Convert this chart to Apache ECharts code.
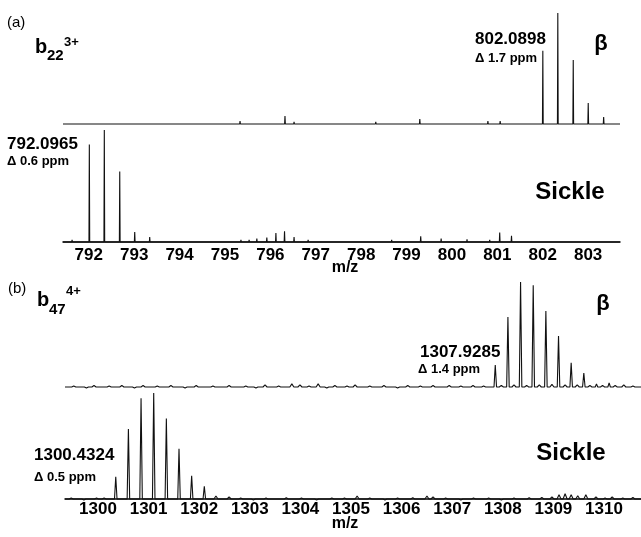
<!DOCTYPE html>
<html>
<head>
<meta charset="UTF-8">
<title>b22 3+ / b47 4+ isotope spectra</title>
<script src="https://cdn.jsdelivr.net/npm/echarts@6/dist/echarts.min.js"></script>
<style>html,body{margin:0;padding:0;background:#fff;}</style>
</head>
<body>
<div id="main" style="width:641px;height:537px;"></div>
<script>
// ---- panel (a): b22 3+ ----
var ticksA = [792, 793, 794, 795, 796, 797, 798, 799, 800, 801, 802, 803];
var betaA_mz  = [802.09, 802.42, 802.76, 803.09, 803.43];
var betaA_int = [0.66, 1.0, 0.577, 0.19, 0.063];
var betaA_noise_mz  = [791.74, 792.11, 792.42, 792.7, 793.2, 793.5, 794.23, 794.45, 794.63, 794.9, 795.1, 795.42, 795.7, 795.9, 796.01, 796.41, 796.61, 796.78, 796.9, 797.14, 797.4, 797.78, 798.0, 798.41, 798.63, 798.9, 799.38, 799.6, 800.02, 800.4, 800.6, 800.88, 801.15, 801.41, 801.92, 802.25, 803.6];
var betaA_noise_int = [0.01, 0.01, 0.01, 0.008, 0.008, 0.008, 0.01, 0.012, 0.01, 0.008, 0.01, 0.027, 0.01, 0.012, 0.018, 0.072, 0.02, 0.01, 0.012, 0.01, 0.008, 0.018, 0.008, 0.02, 0.01, 0.01, 0.045, 0.01, 0.01, 0.008, 0.012, 0.027, 0.027, 0.018, 0.01, 0.018, 0.01];

var sickleA_mz  = [792.10, 792.43, 792.77, 793.10, 793.43];
var sickleA_int = [0.87, 1.0, 0.63, 0.09, 0.045];
var sickleA_noise_mz  = [791.72, 792.29, 793.90, 794.27, 794.71, 795.13, 795.44, 795.62, 795.79, 796.01, 796.21, 796.40, 796.61, 796.92, 797.32, 798.30, 798.76, 799.40, 799.85, 800.42, 800.92, 801.14, 801.40, 801.87, 802.62, 802.90, 803.39];
var sickleA_noise_int = [0.02, 0.015, 0.01, 0.01, 0.01, 0.015, 0.02, 0.02, 0.03, 0.04, 0.08, 0.095, 0.045, 0.02, 0.015, 0.015, 0.02, 0.05, 0.03, 0.025, 0.02, 0.085, 0.055, 0.015, 0.015, 0.015, 0.015];

// ---- panel (b): b47 4+ ----
var ticksB = [1300, 1301, 1302, 1303, 1304, 1305, 1306, 1307, 1308, 1309, 1310];
var betaB_mz  = [1307.93, 1308.18, 1308.43, 1308.68, 1308.93, 1309.18, 1309.43, 1309.68, 1309.93, 1310.18];
var betaB_int = [0.21, 0.667, 1.0, 0.97, 0.724, 0.486, 0.23, 0.133, 0.03, 0.04];
var betaB_noise_mz  = [1299.60, 1299.85, 1300.00, 1300.30, 1300.55, 1300.80, 1300.97, 1301.25, 1301.52, 1301.80, 1302.02, 1302.35, 1302.67, 1303.00, 1303.20, 1303.38, 1303.65, 1303.91, 1304.07, 1304.25, 1304.43, 1304.60, 1304.76, 1305.00, 1305.16, 1305.45, 1305.73, 1306.00, 1306.20, 1306.45, 1306.70, 1307.02, 1307.25, 1307.49, 1307.70, 1308.05, 1308.30, 1308.55, 1308.80, 1309.05, 1309.31, 1309.55, 1309.80, 1310.05, 1310.30, 1310.47, 1310.65];
var betaB_noise_int = [0.01, -0.01, 0.015, 0.01, 0.015, -0.01, 0.015, 0.01, 0.015, -0.01, 0.015, 0.01, 0.015, 0.01, -0.01, 0.02, 0.01, 0.03, 0.02, 0.01, 0.03, -0.01, 0.015, 0.01, 0.02, 0.01, 0.015, -0.01, 0.015, 0.01, 0.015, 0.015, 0.01, 0.015, 0.01, 0.015, 0.02, 0.015, 0.02, 0.025, 0.02, 0.02, 0.015, 0.015, 0.015, 0.02, 0.01];

var sickleB_mz  = [1300.43, 1300.68, 1300.93, 1301.18, 1301.43, 1301.68, 1301.93, 1302.18];
var sickleB_int = [0.21, 0.66, 0.95, 1.0, 0.76, 0.475, 0.22, 0.12];
var sickleB_noise_mz  = [1299.55, 1299.80, 1300.05, 1300.20, 1302.41, 1302.67, 1302.90, 1303.15, 1303.40, 1303.80, 1304.10, 1304.40, 1304.70, 1304.95, 1305.20, 1305.45, 1305.75, 1306.00, 1306.30, 1306.58, 1306.70, 1306.95, 1307.25, 1307.50, 1307.80, 1308.05, 1308.30, 1308.60, 1308.85, 1309.05, 1309.19, 1309.31, 1309.43, 1309.56, 1309.72, 1309.92, 1310.10, 1310.24, 1310.45, 1310.65];
var sickleB_noise_int = [0.01, -0.01, 0.01, 0.01, 0.028, 0.02, 0.01, -0.01, 0.01, 0.012, 0.01, -0.01, 0.01, 0.01, 0.028, 0.01, -0.01, 0.01, 0.012, 0.028, 0.02, 0.01, -0.01, 0.01, 0.01, -0.01, 0.01, 0.012, 0.015, 0.02, 0.04, 0.05, 0.04, 0.03, 0.04, 0.02, 0.01, 0.02, 0.01, 0.015];

var rangeA = [791.52, 803.79];
var rangeB = [1299.427, 1310.81];
var FAM = '"Liberation Sans", Arial, sans-serif';

// builds a baseline + peak trace; each peak is a narrow triangle of half-width hw
function trace(mz, inten, hw, nmz, nint, nhw, range) {
    var pk = [];
    for (var i = 0; i < mz.length; i++) pk.push([mz[i], inten[i], hw]);
    for (var j = 0; j < nmz.length; j++) pk.push([nmz[j], nint[j], nhw]);
    pk.sort(function (a, b) { return a[0] - b[0]; });
    var pts = [[range[0], 0]];
    pk.forEach(function (p) {
        pts.push([p[0] - p[2], 0], [p[0], p[1]], [p[0] + p[2], 0]);
    });
    pts.push([range[1], 0]);
    return pts;
}

function txt(x, y, s, font, align) {
    return {
        type: 'text', x: x, y: y, silent: true,
        style: {
            text: s, font: font + ' ' + FAM, fill: '#000',
            textAlign: align || 'left', align: align || 'left',
            textVerticalAlign: 'middle', verticalAlign: 'middle'
        }
    };
}

function bottomAxis(grid, range, ticks, margin) {
    return {
        gridIndex: grid, type: 'value', min: range[0], max: range[1],
        axisLine: { onZero: false, lineStyle: { color: '#000', width: 1.5 } },
        axisTick: { show: false },
        splitLine: { show: false },
        axisLabel: {
            customValues: ticks,
            formatter: function (v) { return String(v); },
            color: '#000', fontSize: 17, fontWeight: 'bold', fontFamily: FAM,
            margin: margin, padding: [0, 0, 0, 8]
        }
    };
}

function lineSeries(idx, data) {
    return {
        type: 'line', xAxisIndex: idx, yAxisIndex: idx, data: data,
        symbol: 'none', showSymbol: false, clip: false, silent: true,
        lineStyle: { color: '#111', width: 1.1 }
    };
}

var chart = echarts.init(document.getElementById('main'), null, { renderer: 'canvas' });
chart.setOption({
    animation: false,
    backgroundColor: '#fff',
    grid: [
        { left: 63, top: 13, width: 557, height: 111 },
        { left: 63, top: 130, width: 557, height: 112 },
        { left: 65, top: 282, width: 576, height: 105 },
        { left: 65, top: 393, width: 576, height: 106 }
    ],
    xAxis: [
        { gridIndex: 0, type: 'value', min: rangeA[0], max: rangeA[1], show: false },
        bottomAxis(1, rangeA, ticksA, 5),
        { gridIndex: 2, type: 'value', min: rangeB[0], max: rangeB[1], show: false },
        bottomAxis(3, rangeB, ticksB, 2)
    ],
    yAxis: [0, 1, 2, 3].map(function (i) {
        return { gridIndex: i, type: 'value', min: 0, max: 1, show: false };
    }),
    series: [
        lineSeries(0, trace(betaA_mz, betaA_int, 0.008, betaA_noise_mz, betaA_noise_int, 0.008, rangeA)),
        lineSeries(1, trace(sickleA_mz, sickleA_int, 0.008, sickleA_noise_mz, sickleA_noise_int, 0.008, rangeA)),
        lineSeries(2, trace(betaB_mz, betaB_int, 0.025, betaB_noise_mz, betaB_noise_int, 0.04, rangeB)),
        lineSeries(3, trace(sickleB_mz, sickleB_int, 0.025, sickleB_noise_mz, sickleB_noise_int, 0.04, rangeB))
    ],
    graphic: [
        // panel (a)
        txt(7, 23, '(a)', '15px'),
        txt(35, 47.5, 'b', 'bold 20px'),
        txt(47, 56, '22', 'bold 15px'),
        txt(64, 42, '3+', 'bold 13px'),
        txt(475, 39, '802.0898', 'bold 17px'),
        txt(475, 58, 'Δ 1.7 ppm', 'bold 13px'),
        txt(601, 44, 'β', 'bold 22px', 'center'),
        txt(7, 144, '792.0965', 'bold 17px'),
        txt(7, 161, 'Δ 0.6 ppm', 'bold 13px'),
        txt(570, 192, 'Sickle', 'bold 24px', 'center'),
        txt(345, 268, 'm/z', 'bold 16px', 'center'),
        // panel (b)
        txt(8, 289, '(b)', '15px'),
        txt(37, 300, 'b', 'bold 20px'),
        txt(49, 310, '47', 'bold 15px'),
        txt(66, 291, '4+', 'bold 13px'),
        txt(420, 352, '1307.9285', 'bold 17px'),
        txt(418, 369, 'Δ 1.4 ppm', 'bold 13px'),
        txt(603, 304, 'β', 'bold 22px', 'center'),
        txt(34, 455, '1300.4324', 'bold 17px'),
        txt(34, 477, 'Δ 0.5 ppm', 'bold 13px'),
        txt(571, 453, 'Sickle', 'bold 24px', 'center'),
        txt(345, 524, 'm/z', 'bold 16px', 'center')
    ]
});
</script>
</body>
</html>
